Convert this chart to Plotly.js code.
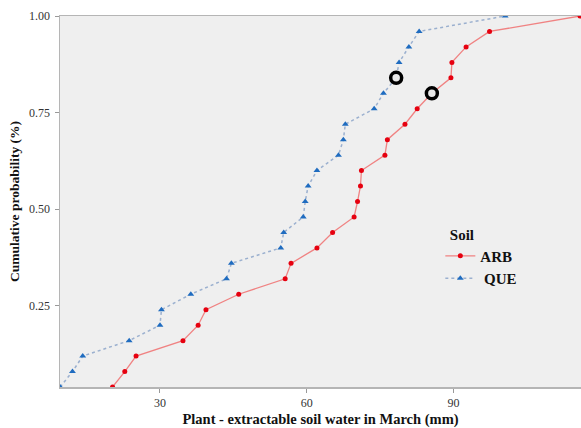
<!DOCTYPE html>
<html>
<head>
<meta charset="utf-8">
<script src="https://cdn.plot.ly/plotly-3.0.1.min.js"></script>
<style>html,body{margin:0;padding:0;background:#fff;}#chart{width:581px;height:428px;}</style>
</head>
<body>
<div id="chart"></div>
<script>
// Cumulative probability levels (shared by both soils)
const cumProb = [0.04, 0.08, 0.12, 0.16, 0.20, 0.24, 0.28, 0.32, 0.36, 0.40, 0.44, 0.48, 0.52,
                 0.56, 0.60, 0.64, 0.68, 0.72, 0.76, 0.80, 0.84, 0.88, 0.92, 0.96, 1.00];
// Plant-extractable soil water in March (mm)
const arbWater = [20.3, 22.8, 25.1, 34.7, 37.8, 39.4, 46.1, 55.6, 56.8, 62.1, 65.3, 69.7, 70.4,
                  71.0, 71.2, 76.0, 76.5, 80.1, 82.6, 85.6, 89.5, 89.7, 92.6, 97.4, 115.9];
const queWater = [9.6, 12.1, 14.2, 23.7, 30.0, 30.3, 36.3, 43.6, 44.6, 54.7, 55.3, 59.3, 59.7,
                  60.3, 62.1, 66.5, 67.5, 67.9, 73.8, 75.7, 78.3, 78.9, 80.9, 83.0, 100.6];
const soilNames = ["ARB", "QUE"];
// Highlighted (circled) observations: index into the series
const arbHighlight = 19;
const queHighlight = 20;
const xTicks = [30, 60, 90];
const yTicks = [0.25, 0.50, 0.75, 1.00];

const serif = "Liberation Serif, Times New Roman, serif";

const traces = [
  {
    x: arbWater, y: cumProb, name: soilNames[0], type: "scatter", mode: "lines+markers",
    line: {color: "rgba(240,110,110,0.85)", width: 1.3},
    marker: {color: "#e6000f", size: 5, symbol: "circle"}
  },
  {
    x: queWater, y: cumProb, name: " " + soilNames[1], type: "scatter", mode: "lines+markers",
    line: {color: "#9bb0cf", width: 1.5, dash: "dot"},
    marker: {color: "#1f6cc0", size: 6, symbol: "triangle-up"}
  },
  {
    x: [queWater[queHighlight], arbWater[arbHighlight]],
    y: [cumProb[queHighlight], cumProb[arbHighlight]],
    type: "scatter", mode: "markers", showlegend: false, hoverinfo: "skip",
    marker: {color: "#e8e8e8", size: 11, symbol: "circle", line: {color: "#000", width: 3.5}}
  }
];

const layout = {
  width: 581, height: 428,
  margin: {l: 60, r: 0, t: 16, b: 41},
  paper_bgcolor: "#ffffff",
  plot_bgcolor: "#efefef",
  font: {family: serif, color: "#222", size: 12},
  showlegend: true,
  legend: {
    x: 0.73, y: 0.45, xanchor: "left", yanchor: "top",
    bgcolor: "rgba(0,0,0,0)",
    title: {text: "&nbsp;&nbsp;<b>Soil</b>", font: {family: serif, size: 15, color: "#111"}},
    font: {family: serif, size: 15, color: "#111", weight: "bold"},
    itemwidth: 30, tracegroupgap: 0
  },
  xaxis: {
    range: [9.55, 116.1],
    tickvals: xTicks, ticktext: xTicks.map(String),
    ticks: "outside", ticklen: 4, tickcolor: "#999",
    showgrid: false, zeroline: false,
    showline: true, linecolor: "#b5b5b5", linewidth: 1.5, mirror: true,
    tickfont: {family: serif, size: 12, color: "#333"},
    title: {text: "<b>Plant - extractable soil water in March (mm)</b>",
            font: {family: serif, size: 14.5, color: "#111"}, standoff: 8}
  },
  yaxis: {
    range: [0.04, 1.0],
    tickvals: yTicks, ticktext: yTicks.map(v => v.toFixed(2)),
    ticks: "outside", ticklen: 4, tickcolor: "#999",
    showgrid: false, zeroline: false,
    showline: true, linecolor: "#b5b5b5", linewidth: 1.5, mirror: true,
    tickfont: {family: serif, size: 12, color: "#333"},
    ticklabelstandoff: 2,
    title: {text: "<b>Cumulative probability (%)</b>",
            font: {family: serif, size: 13.5, color: "#111"}, standoff: 6}
  }
};

Plotly.newPlot("chart", traces, layout, {displayModeBar: false, staticPlot: true});
</script>
</body>
</html>
